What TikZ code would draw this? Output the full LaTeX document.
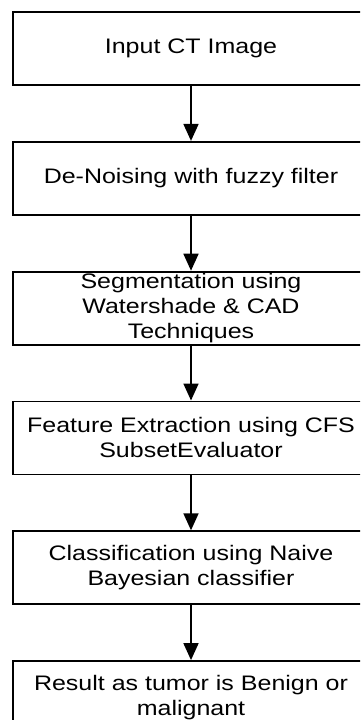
\documentclass[tikz,border=0pt]{standalone}
\usepackage{fontspec}
\setmainfont{Liberation Sans}[FakeStretch=1.19]
\usepackage{tikz}
\usetikzlibrary{positioning,arrows.meta}

\begin{document}
\begin{tikzpicture}[x=1pt, y=-1pt,
    block/.style={draw, line width=1.8pt, minimum width=356pt, minimum height=73pt, inner sep=0pt, align=center, font=\fontsize{21}{25}\selectfont},
    flow/.style={line width=1.8pt, -{Triangle[length=17pt,width=15pt]}}]
    \useasboundingbox (0,0) rectangle (360,720);
    \clip (0,0) rectangle (360,720); % right edge and last box cut off

    % Blocks
    \node[block] (input) at (191,48.5) {Input CT Image};
    \node[block, below=55pt of input] (denoise) {De-Noising with fuzzy filter};
    \node[block, below=55pt of denoise] (seg) {Segmentation using\\Watershade \& CAD\\Techniques};
    \node[block, below=55pt of seg] (feat) {Feature Extraction using CFS\\SubsetEvaluator};
    \node[block, below=55pt of feat] (class) {Classification using Naive\\Bayesian classifier};
    \node[block, below=55pt of class] (result) {Result as tumor is Benign or\\malignant};

    % Arrows
    \draw[flow] (input) -- (denoise);
    \draw[flow] (denoise) -- (seg);
    \draw[flow] (seg) -- (feat);
    \draw[flow] (feat) -- (class);
    \draw[flow] (class) -- (result);
\end{tikzpicture}
\end{document}
